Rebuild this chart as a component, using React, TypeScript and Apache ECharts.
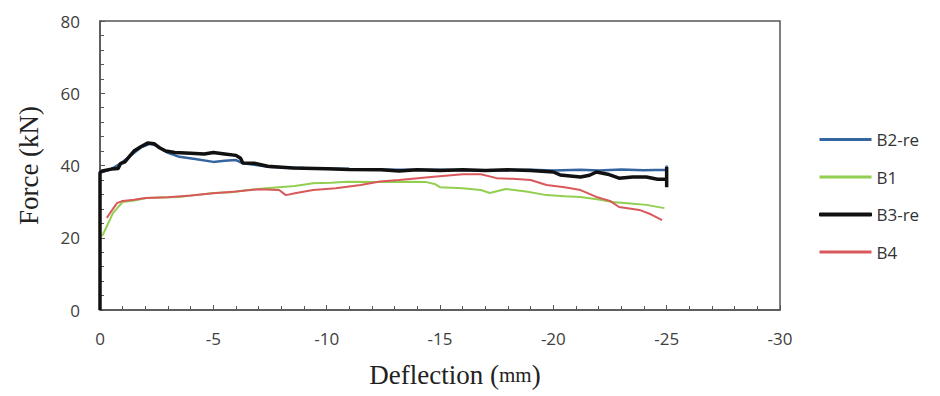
import React, { useEffect, useRef } from "react";
import * as echarts from "echarts";

const seriesNames = ["B2-re", "B1", "B3-re", "B4"];
const xTicks = [0, -5, -10, -15, -20, -25, -30];
const yTicks = [0, 20, 40, 60, 80];

const b2re: number[][] = [
  [0, 38], [-0.5, 39], [-0.9, 40.5], [-1.3, 42.5], [-1.8, 45], [-2.2, 46], [-2.5, 45.5],
  [-3, 43.5], [-3.5, 42.4], [-4.2, 41.8], [-5, 41], [-5.5, 41.3], [-6, 41.5], [-6.3, 40.6],
  [-6.8, 40.2], [-7.5, 39.6], [-9, 39.3], [-11, 39], [-13, 38.8], [-15, 38.8], [-17, 38.6],
  [-19, 38.8], [-20, 38.6], [-21.2, 38.8], [-22, 38.6], [-23, 38.9], [-24, 38.7], [-25, 38.8],
  [-25, 40], [-25, 38],
];

const b1: number[][] = [
  [-0.1, 20.5], [-0.22, 22.1], [-0.4, 24.5], [-0.57, 26.8], [-0.8, 28.5], [-1, 29.9],
  [-1.5, 30.3], [-2.07, 31], [-3, 31.2], [-3.5, 31.3], [-4.2, 31.8], [-5, 32.4], [-5.8, 32.6],
  [-6.5, 33.2], [-7.2, 33.6], [-7.9, 34], [-8.6, 34.3], [-9.4, 35.1], [-10.2, 35.2],
  [-10.9, 35.5], [-12.35, 35.4], [-13.5, 35.5], [-14.4, 35.4], [-14.8, 34.8], [-15, 34],
  [-16, 33.7], [-16.8, 33.2], [-17.2, 32.4], [-17.9, 33.5], [-18.8, 32.8], [-19.7, 31.8],
  [-20.5, 31.5], [-21.2, 31.3], [-22, 30.6], [-22.6, 29.9], [-23.4, 29.5], [-24.1, 29.1],
  [-24.9, 28.2],
];

const b3re: number[][] = [
  [0, 0], [0, 38], [-0.1, 38.5], [-0.5, 39], [-0.8, 39.2], [-0.9, 40.5], [-1.1, 41],
  [-1.3, 42.5], [-1.5, 44], [-1.8, 45.2], [-2.1, 46.2], [-2.4, 46], [-2.6, 45], [-2.9, 44],
  [-3.3, 43.6], [-4, 43.4], [-4.6, 43.2], [-5, 43.6], [-5.5, 43.2], [-6, 42.8], [-6.2, 42],
  [-6.3, 40.7], [-6.8, 40.6], [-7.4, 39.8], [-8.5, 39.3], [-10, 39.1], [-11, 38.9],
  [-12.4, 38.8], [-13.2, 38.5], [-14, 38.8], [-15, 38.6], [-16, 38.8], [-17, 38.6],
  [-18, 38.8], [-19, 38.6], [-20, 38.2], [-20.3, 37.4], [-21.2, 36.8], [-21.6, 37.3],
  [-21.9, 38.2], [-22.4, 37.6], [-22.9, 36.5], [-23.5, 36.8], [-24.1, 36.8], [-24.6, 36.2],
  [-25, 36.2], [-25, 39.6], [-25, 34],
];

const b4: number[][] = [
  [-0.3, 25.5], [-0.44, 26.8], [-0.75, 29.6], [-1, 30.2], [-1.5, 30.5], [-2, 31], [-3, 31.2],
  [-4, 31.7], [-5, 32.3], [-6, 32.8], [-7, 33.4], [-7.9, 33.2], [-8.2, 31.8], [-8.6, 32.3],
  [-9.4, 33.2], [-10.4, 33.7], [-11.5, 34.6], [-12.35, 35.6], [-13.2, 36], [-14.6, 36.8],
  [-16, 37.6], [-16.8, 37.6], [-17.5, 36.5], [-18.2, 36.3], [-19, 36], [-19.7, 34.6],
  [-20.5, 34], [-21.2, 33.2], [-21.9, 31.3], [-22.5, 30.2], [-22.9, 28.5], [-23.8, 27.7],
  [-24.3, 26.5], [-24.8, 24.9],
];

const colors = ["#34659f", "#92cf50", "#111111", "#d8585c"];
const widths = [2.5, 2, 3.5, 2];
const zs = [2, 3, 4, 5];

export default function App() {
  const ref = useRef<HTMLDivElement>(null);
  useEffect(() => {
    if (!ref.current) return;
    const chart = echarts.init(ref.current, undefined, { renderer: "svg" });
    const datas = [b2re, b1, b3re, b4];
    const axisColor = "#555555";
    chart.setOption({
      animation: false,
      backgroundColor: "#ffffff",
      grid: {
        left: 100,
        right: 160,
        top: 21,
        bottom: 86,
        show: true,
        borderColor: axisColor,
        borderWidth: 1.5,
      },
      legend: {
        orient: "vertical",
        left: 814,
        top: 126,
        itemWidth: 52,
        itemHeight: 3,
        itemGap: 20.5,
        icon: "rect",
        data: seriesNames.map((name) =>
          name === "B3-re"
            ? { name, itemStyle: { borderColor: "#111111", borderWidth: 1 } }
            : { name }
        ),
        textStyle: { fontSize: 17, color: "#333", fontFamily: "Open Sans" },
      },
      xAxis: {
        type: "value",
        min: xTicks[xTicks.length - 1],
        max: xTicks[0],
        interval: 5,
        inverse: true,
        name: "{a|Deflection }{b|(}{c|mm}{b|)}",
        nameLocation: "middle",
        nameGap: 51,
        nameTextStyle: {
          padding: [0, 0, 0, 30],
          rich: {
            a: { fontFamily: "Liberation Serif", fontSize: 27, color: "#222" },
            b: { fontFamily: "Liberation Serif", fontSize: 27, color: "#222" },
            c: { fontFamily: "Liberation Serif", fontSize: 21, color: "#222" },
          },
        },
        axisLine: { onZero: false, lineStyle: { color: axisColor, width: 1.5 } },
        axisTick: { inside: true, length: 5, lineStyle: { color: axisColor } },
        minorTick: { show: true, splitNumber: 5, length: 4, lineStyle: { color: axisColor } },
        axisLabel: { fontSize: 17, color: "#404040", margin: 20, fontFamily: "Open Sans" },
        splitLine: { show: false },
      },
      yAxis: {
        type: "value",
        min: yTicks[0],
        max: yTicks[yTicks.length - 1],
        interval: 20,
        name: "Force (kN)",
        nameLocation: "middle",
        nameGap: 58,
        nameTextStyle: { fontFamily: "Liberation Serif", fontSize: 27, color: "#222" },
        axisLine: { show: true, lineStyle: { color: axisColor, width: 1.5 } },
        axisTick: { inside: true, length: 5, lineStyle: { color: axisColor } },
        minorTick: { show: true, splitNumber: 5, length: 4, lineStyle: { color: axisColor } },
        axisLabel: { fontSize: 17, color: "#404040", margin: 20, fontFamily: "Open Sans" },
        splitLine: { show: false },
      },
      series: seriesNames.map((name, i) => ({
        name,
        type: "line",
        data: datas[i],
        symbol: "none",
        z: zs[i],
        color: colors[i],
        lineStyle: { color: colors[i], width: widths[i] },
        itemStyle: { color: colors[i] },
      })),
    });
    return () => chart.dispose();
  }, []);
  return (
    <div
      ref={ref}
      style={{ position: "absolute", left: 0, top: 0, width: 940, height: 396 }}
    />
  );
}
